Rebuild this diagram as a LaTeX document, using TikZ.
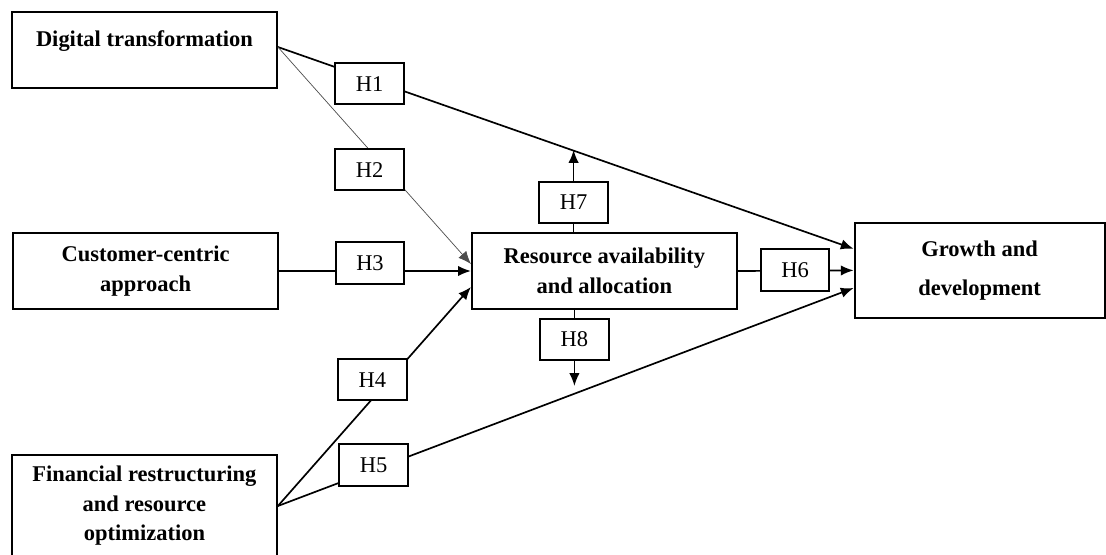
\documentclass[tikz,border=0pt]{standalone}
\usepackage{fontspec}
\setmainfont{Liberation Serif}
\usetikzlibrary{arrows.meta,positioning,calc}
\tikzset{
    construct/.style={draw, line width=1.4pt, align=center, inner sep=0pt,
        minimum width=6.625cm, minimum height=1.9cm,
        font=\fontsize{16pt}{21pt}\selectfont\bfseries},
    hyp/.style={draw, fill=white, line width=1.4pt, inner sep=0pt,
        minimum width=1.72cm, minimum height=1.03cm,
        font=\fontsize{16pt}{21pt}\selectfont},
    link/.style={line width=1.2pt, -{Latex[length=0.32cm,width=0.26cm]}}
}
\begin{document}
\begin{tikzpicture}
                    \useasboundingbox (0,0) rectangle (27.65,13.85);
                    \node[construct, text height=0.4cm, text depth=0.575cm] (dig) at (3.61,12.60) {Digital transformation};
                    \node[construct] (cust) at (3.64,7.075) {Customer-centric\\approach};
                    \node[construct] (res) at (15.11,7.075) {Resource availability\\and allocation};
                    \node[construct, minimum height=2.55cm] (fin) at (3.61,1.20) {Financial restructuring\\and resource\\optimization};
                    \node[construct, minimum width=6.25cm, minimum height=2.375cm] (grow) at (24.49,7.09) {Growth and\\[0.25cm]development};
                    \coordinate (up) at (14.34,10.10);
                    \coordinate (down) at (14.36,4.20);

                    %paths behind the hypothesis boxes
                    \draw[link] ([yshift=0.075cm]dig.east) -- ([yshift=0.54cm]grow.west);
                    \draw[link, line width=0.5pt, draw=black!70] ([yshift=0.075cm]dig.east) -- ([yshift=0.175cm]res.west);
                    \draw[link] (cust.east) -- (res.west);
                    \draw[link] (fin.east) -- ([yshift=-0.4cm]res.west);
                    \draw[link] (fin.east) -- ([yshift=-0.44cm]grow.west);
                    \draw[link] (res.east) -- (grow.west);
                    \draw[link] (up |- res.north) -- (up);
                    \draw[link] (down |- res.south) -- (down);

                    \node[hyp] (h1) at (9.24,11.76) {H1};
                    \node[hyp] (h2) at (9.24,9.61) {H2};
                    \node[hyp] (h3) at (9.25,7.275) {H3};
                    \node[hyp] (h4) at (9.31,4.36) {H4};
                    \node[hyp] (h5) at (9.34,2.225) {H5};
                    \node[hyp] (h6) at (19.875,7.10) {H6};
                    \node[hyp] (h7) at (14.34,8.79) {H7};
                    \node[hyp] (h8) at (14.36,5.36) {H8};
                \end{tikzpicture}
\end{document}
